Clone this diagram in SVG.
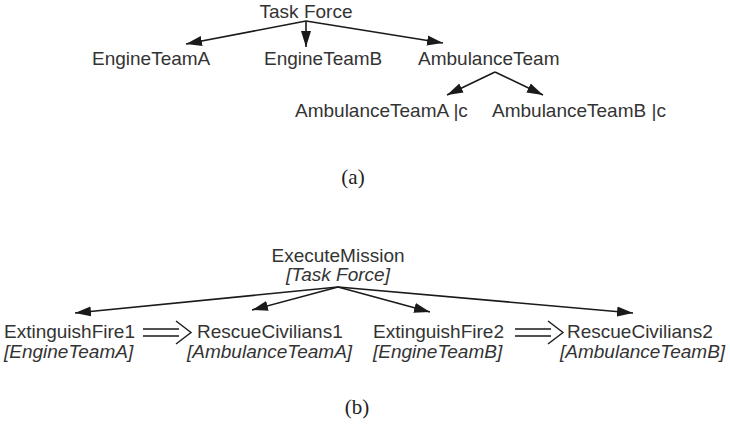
<svg xmlns="http://www.w3.org/2000/svg" width="730" height="428" viewBox="0 0 730 428">
  <style>
    .lbl { font-family: "Liberation Sans", Arial, sans-serif; font-size: 19px; fill: #333; }
    .role { font-family: "Liberation Sans", Arial, sans-serif; font-size: 19px; font-style: italic; fill: #333; }
    .cap { font-family: "Liberation Serif", "DejaVu Serif", serif; font-size: 21px; fill: #222; text-anchor: middle; }
    .mid { text-anchor: middle; }
    .edge { stroke: #1a1a1a; stroke-width: 1.6; fill: none; marker-end: url(#arrow); }
    .impl { stroke: #1a1a1a; stroke-width: 1.4; fill: none; }
  </style>
  <defs>
    <marker id="arrow" markerUnits="userSpaceOnUse" markerWidth="17" markerHeight="12" viewBox="0 0 17 12" refX="16" refY="6" orient="auto">
      <path d="M0,1 L16,6 L0,11 Z" fill="#1a1a1a"/>
    </marker>
  </defs>

  <!-- (a) team hierarchy -->
  <g id="task-force"><text class="lbl mid" x="306" y="18">Task Force</text></g>
  <g id="engine-team-a"><text class="lbl" x="92" y="65">EngineTeamA</text></g>
  <g id="engine-team-b"><text class="lbl" x="264" y="65">EngineTeamB</text></g>
  <g id="ambulance-team"><text class="lbl" x="418" y="65">AmbulanceTeam</text></g>
  <g id="ambulance-team-a"><text class="lbl" x="295" y="117">AmbulanceTeamA |c</text></g>
  <g id="ambulance-team-b"><text class="lbl" x="492" y="117">AmbulanceTeamB |c</text></g>

  <g id="hierarchy-edges">
    <line class="edge" x1="306" y1="21" x2="186" y2="44"/>
    <line class="edge" x1="306" y1="21" x2="306" y2="47"/>
    <line class="edge" x1="306" y1="21" x2="443" y2="43"/>
    <line class="edge" x1="495" y1="72" x2="447" y2="95"/>
    <line class="edge" x1="495" y1="72" x2="543" y2="95"/>
  </g>

  <text class="cap" x="353" y="184">(a)</text>

  <!-- (b) mission decomposition -->
  <g id="execute-mission">
    <text class="lbl mid" x="338" y="262">ExecuteMission</text>
    <text class="role mid" x="338" y="281">[Task Force]</text>
  </g>
  <g id="extinguish-fire-1">
    <text class="lbl" x="4" y="338">ExtinguishFire1</text>
    <text class="role" x="4" y="358">[EngineTeamA]</text>
  </g>
  <g id="rescue-civilians-1">
    <text class="lbl" x="197" y="338">RescueCivilians1</text>
    <text class="role" x="187" y="358">[AmbulanceTeamA]</text>
  </g>
  <g id="extinguish-fire-2">
    <text class="lbl" x="373" y="338">ExtinguishFire2</text>
    <text class="role" x="373" y="358">[EngineTeamB]</text>
  </g>
  <g id="rescue-civilians-2">
    <text class="lbl" x="567" y="338">RescueCivilians2</text>
    <text class="role" x="560" y="358">[AmbulanceTeamB]</text>
  </g>

  <g id="mission-edges">
    <line class="edge" x1="338" y1="287" x2="75" y2="313"/>
    <line class="edge" x1="338" y1="287" x2="252" y2="310"/>
    <line class="edge" x1="338" y1="287" x2="430" y2="312"/>
    <line class="edge" x1="338" y1="287" x2="633" y2="313"/>
    <!-- ordering (double arrow) -->
    <path class="impl" d="M143,329 H179 M143,336 H179 M176,321 L191,332.5 L176,344"/>
    <path class="impl" d="M515,329 H551 M515,336 H551 M548,321 L563,332.5 L548,344"/>
  </g>

  <text class="cap" x="357" y="414">(b)</text>
</svg>
